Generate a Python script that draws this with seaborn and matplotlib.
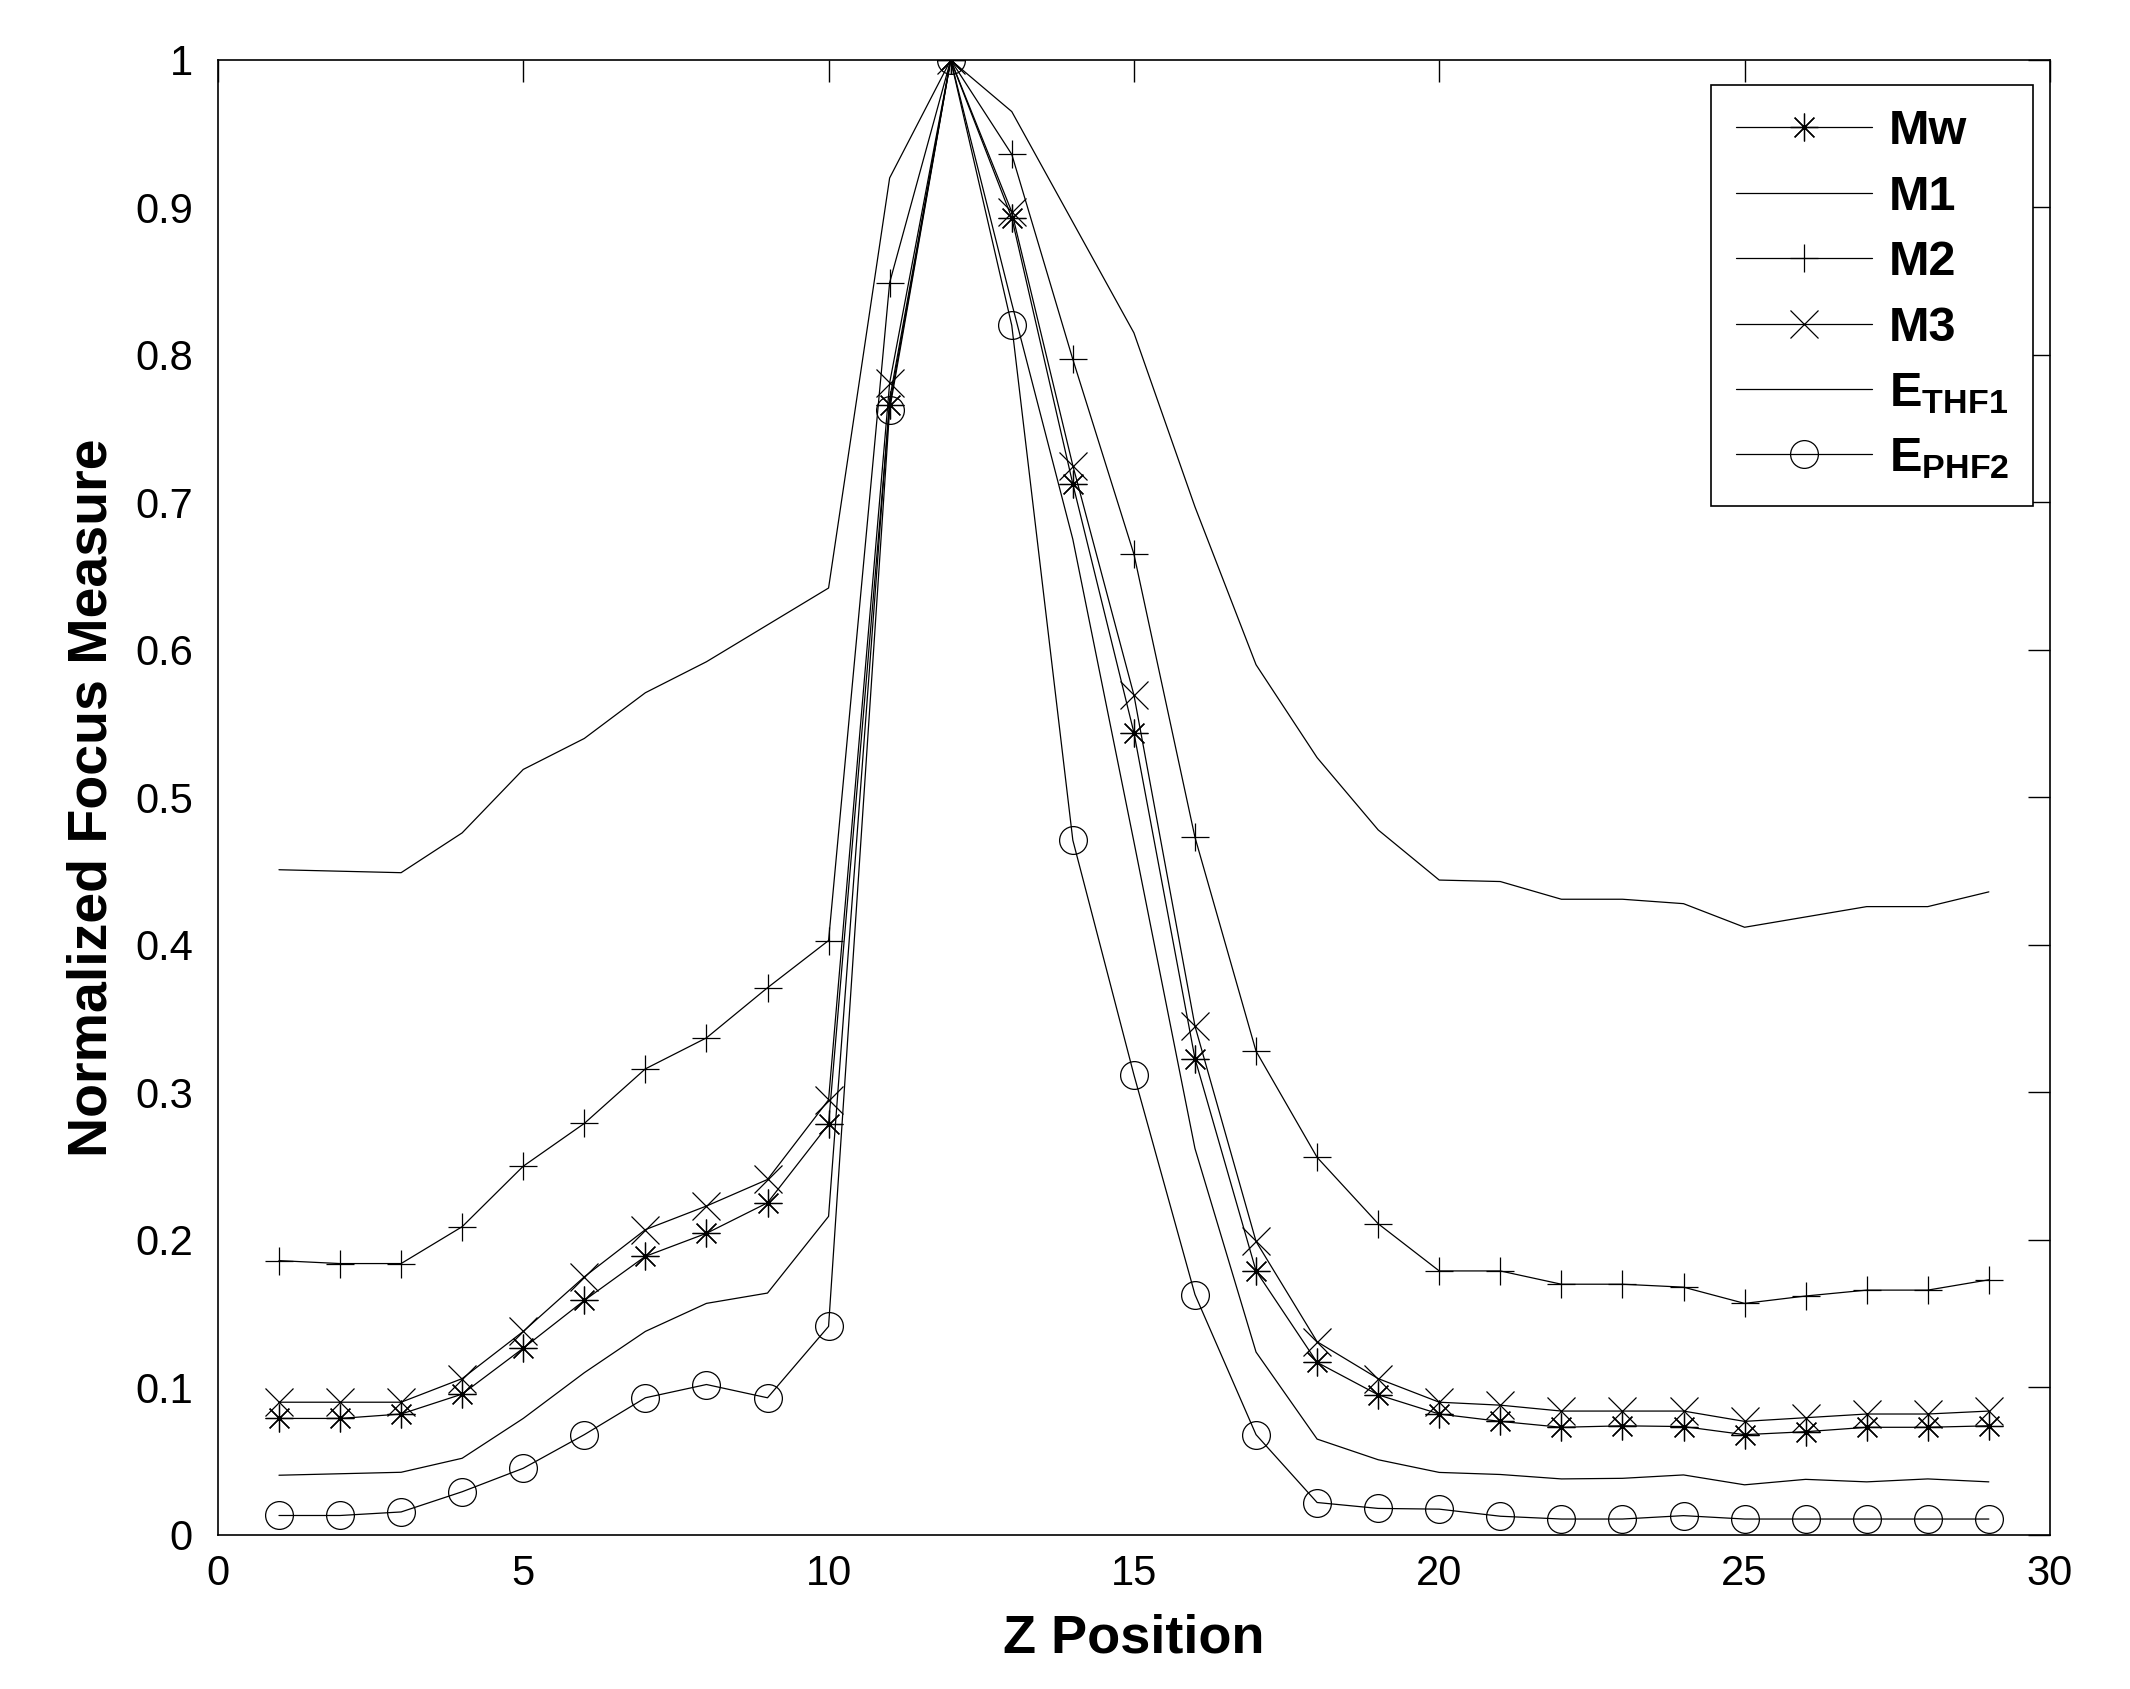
import matplotlib
matplotlib.use("Agg")
import matplotlib.pyplot as plt
import seaborn as sns
import numpy as np
from matplotlib.ticker import FuncFormatter

# Z positions
z = list(range(1, 30))

# normalized focus measure for each method
mw = [0.079, 0.079, 0.082, 0.0955, 0.1266, 0.159, 0.1889, 0.2045, 0.2252, 0.2784,
      0.766, 1.0, 0.893, 0.7125, 0.544, 0.323, 0.179, 0.117, 0.095, 0.082,
      0.077, 0.073, 0.074, 0.0735, 0.068, 0.070, 0.073, 0.073, 0.074]
m1 = [0.451, 0.450, 0.449, 0.476, 0.519, 0.540, 0.571, 0.592, 0.617, 0.642,
      0.920, 1.0, 0.965, 0.890, 0.815, 0.697, 0.590, 0.527, 0.478, 0.444,
      0.443, 0.431, 0.431, 0.428, 0.412, 0.419, 0.426, 0.426, 0.436]
m2 = [0.186, 0.184, 0.184, 0.209, 0.250, 0.279, 0.316, 0.337, 0.371, 0.403,
      0.849, 1.0, 0.936, 0.797, 0.665, 0.473, 0.328, 0.256, 0.211, 0.179,
      0.179, 0.170, 0.170, 0.168, 0.157, 0.162, 0.166, 0.166, 0.173]
m3 = [0.090, 0.090, 0.090, 0.106, 0.138, 0.175, 0.207, 0.223, 0.241, 0.295,
      0.781, 1.0, 0.897, 0.725, 0.5695, 0.345, 0.199, 0.131, 0.106, 0.090,
      0.088, 0.084, 0.084, 0.084, 0.077, 0.0795, 0.082, 0.082, 0.084]
ethf1 = [0.0405, 0.0415, 0.0425, 0.052, 0.079, 0.110, 0.138, 0.157, 0.164, 0.216,
         0.770, 1.0, 0.835, 0.675, 0.470, 0.262, 0.124, 0.065, 0.051, 0.0424,
         0.041, 0.038, 0.0384, 0.0407, 0.034, 0.0377, 0.036, 0.038, 0.036]
ephf2 = [0.0132, 0.0132, 0.0156, 0.0293, 0.0452, 0.068, 0.093, 0.102, 0.093, 0.1414,
         0.763, 1.0, 0.820, 0.471, 0.312, 0.163, 0.068, 0.022, 0.018, 0.0175,
         0.0127, 0.0108, 0.0108, 0.0131, 0.0108, 0.0108, 0.0108, 0.0108, 0.0108]

labels = ["Mw", "M1", "M2", "M3",
          r"$\mathbf{E_{THF1}}$", r"$\mathbf{E_{PHF2}}$"]
series = [mw, m1, m2, m3, ethf1, ephf2]
markers = [(8, 2, 0), None, "+", "x", None, "o"]

sns.set_style("white")
plt.rcParams["font.family"] = ["Liberation Sans", "DejaVu Sans"]
plt.rcParams["mathtext.fontset"] = "custom"
plt.rcParams["mathtext.bf"] = "Liberation Sans:bold"
plt.rcParams["mathtext.rm"] = "Liberation Sans"
plt.rcParams["text.color"] = "black"
plt.rcParams["axes.labelcolor"] = "black"

fig = plt.figure(figsize=(21.3, 16.89), dpi=100)
ax = fig.add_axes([0.1023, 0.0912, 0.8601, 0.8733])

for vals, lab, mk in zip(series, labels, markers):
    kw = dict(color="black", linewidth=0.9)
    if mk is not None:
        kw.update(marker=mk, markersize=20, markeredgewidth=0.9,
                  markeredgecolor="black")
        if mk == "o":
            kw.update(markerfacecolor="none")
    sns.lineplot(x=z, y=vals, ax=ax, label=lab, **kw)

ax.set_xlim(0, 30)
ax.set_ylim(0, 1)
ax.set_xticks(np.arange(0, 31, 5))
ax.set_yticks(np.round(np.arange(0, 1.01, 0.1), 1))
ax.yaxis.set_major_formatter(FuncFormatter(lambda v, p: f"{v:g}"))
ax.tick_params(direction="in", length=16, width=1, top=True, right=True,
               labelsize=30, colors="black", labelcolor="black")
ax.tick_params(axis="y", pad=18)
ax.tick_params(axis="x", pad=14)
for s in ax.spines.values():
    s.set_visible(True)
    s.set_color("black")
    s.set_linewidth(1.2)

ax.set_xlabel("Z Position", fontsize=39, fontweight="bold", labelpad=14)
ax.set_ylabel("Normalized Focus Measure", fontsize=40, fontweight="bold", labelpad=12)

leg = ax.legend(loc="upper right", bbox_to_anchor=(0.991, 0.983), borderaxespad=0,
                fancybox=False, edgecolor="black", framealpha=1,
                prop={"size": 35, "weight": "bold"}, handlelength=2.8,
                labelspacing=0.42, borderpad=0.5, handletextpad=0.35)
leg.get_frame().set_linewidth(1.2)

fig.savefig("out.png", dpi=100)
